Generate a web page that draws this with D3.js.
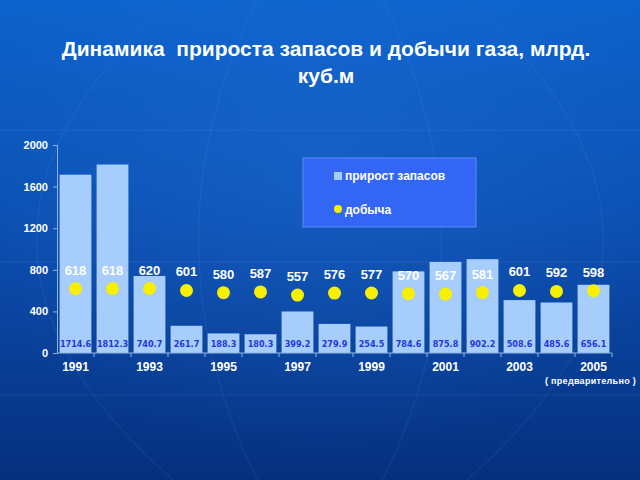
<!DOCTYPE html>
<html>
<head>
<meta charset="utf-8">
<title>Динамика прироста запасов и добычи газа</title>
<script src="https://cdn.jsdelivr.net/npm/d3@7"></script>
<style>
  body { margin: 0; background: #0a4aa8; }
  svg { display: block; }
</style>
</head>
<body>
<script>
// data
var years = [1991, 1992, 1993, 1994, 1995, 1996, 1997, 1998, 1999, 2000, 2001, 2002, 2003, 2004, 2005];
var reserves = [1714.6, 1812.3, 740.7, 261.7, 188.3, 180.3, 399.2, 279.9, 254.5, 784.6, 875.8, 902.2, 508.6, 485.6, 656.1];
var production = [618, 618, 620, 601, 580, 587, 557, 576, 577, 570, 567, 581, 601, 592, 598];
var yTicks = [0, 400, 800, 1200, 1600, 2000];
var xLabels = [1991, 1993, 1995, 1997, 1999, 2001, 2003, 2005];
var legendNames = ["прирост запасов", "добыча"];

var w = 640, h = 480;
var font = "'Liberation Sans', Arial, sans-serif";

var svg = d3.select("body").append("svg")
    .attr("width", w)
    .attr("height", h);

// background
var defs = svg.append("defs");
var bg = defs.append("linearGradient").attr("id", "bg")
    .attr("x1", 0).attr("y1", 0).attr("x2", 0).attr("y2", 1);
bg.append("stop").attr("offset", "0%").attr("stop-color", "#0c62cc");
bg.append("stop").attr("offset", "45%").attr("stop-color", "#0b4fb2");
bg.append("stop").attr("offset", "100%").attr("stop-color", "#06307e");
svg.append("rect").attr("width", w).attr("height", h).attr("fill", "url(#bg)");

var glow = defs.append("radialGradient").attr("id", "glow")
    .attr("cx", "50%").attr("cy", "35%").attr("r", "60%");
glow.append("stop").attr("offset", "0%").attr("stop-color", "#2a7ae0").attr("stop-opacity", 0.3);
glow.append("stop").attr("offset", "100%").attr("stop-color", "#2a7ae0").attr("stop-opacity", 0);
svg.append("rect").attr("width", w).attr("height", h).attr("fill", "url(#glow)");

// faint globe lines
var deco = svg.append("g").attr("fill", "none").attr("stroke", "#6fa6ee").attr("stroke-opacity", 0.14).attr("stroke-width", 1);
[130, 262, 395, 520].forEach(function(yy) {
    deco.append("line").attr("x1", 0).attr("x2", w).attr("y1", yy).attr("y2", yy);
});
[-420, -180, 180, 420].forEach(function(dx) {
    deco.append("path").attr("d", "M" + (320 + dx * 0.35) + ",0 Q" + (320 + dx) + ",240 " + (320 + dx * 0.35) + ",480");
});

// title
var title = svg.append("text")
    .attr("text-anchor", "middle")
    .attr("font-family", font)
    .attr("font-weight", "bold")
    .attr("font-size", "21px")
    .attr("fill", "#ffffff");
title.append("tspan").attr("x", 326).attr("y", 56).attr("xml:space", "preserve").text("Динамика  прироста запасов и добычи газа, млрд.");
title.append("tspan").attr("x", 326).attr("y", 83).text("куб.м");

// scales
var xScale = d3.scaleBand()
    .domain(years)
    .range([57, 612])
    .paddingInner(0.14)
    .paddingOuter(0.07);

var yScale = d3.scaleLinear()
    .domain([0, 2000])
    .range([353, 145]);

// axes
var yAxis = d3.axisLeft(yScale).tickValues(yTicks).tickFormat(d3.format("d")).tickSize(4).tickPadding(5);
var gy = svg.append("g")
    .attr("transform", "translate(57,0)")
    .call(yAxis);
gy.select(".domain").attr("stroke", "#8fb4e6");
gy.selectAll(".tick line").attr("stroke", "#8fb4e6");
gy.selectAll(".tick text")
    .attr("fill", "#ffffff")
    .attr("font-family", font)
    .attr("font-weight", "bold")
    .attr("font-size", "11px");

// bars
svg.selectAll("rect.bar")
    .data(years)
    .enter().append("rect")
    .attr("class", "bar")
    .attr("x", function(d) { return xScale(d); })
    .attr("y", function(d, i) { return yScale(reserves[i]); })
    .attr("width", xScale.bandwidth())
    .attr("height", function(d, i) { return yScale(0) - yScale(reserves[i]); })
    .attr("fill", "#a6cdfb");

// bar values
svg.selectAll("text.barval")
    .data(years)
    .enter().append("text")
    .attr("class", "barval")
    .attr("x", function(d) { return xScale(d) + xScale.bandwidth() / 2; })
    .attr("y", yScale(0) - 6)
    .attr("text-anchor", "middle")
    .attr("font-family", "'DejaVu Sans Condensed', 'DejaVu Sans', sans-serif")
    .attr("font-weight", "bold")
    .attr("font-size", "9px")
    .attr("fill", "#2336d6")
    .text(function(d, i) { return reserves[i].toFixed(1); });

// x axis
var xAxis = d3.axisBottom(xScale).tickValues(xLabels).tickSize(0).tickPadding(9);
var gx = svg.append("g")
    .attr("transform", "translate(0," + yScale(0) + ")")
    .call(xAxis);
gx.select(".domain").remove();
gx.selectAll(".tick text")
    .attr("fill", "#ffffff")
    .attr("font-family", font)
    .attr("font-weight", "bold")
    .attr("font-size", "12px");
svg.append("line")
    .attr("x1", 57).attr("x2", 612)
    .attr("y1", yScale(0)).attr("y2", yScale(0))
    .attr("stroke", "#8fb4e6");
var gap = xScale.step() * xScale.paddingInner() / 2;
svg.selectAll("line.xtick")
    .data(years)
    .enter().append("line")
    .attr("class", "xtick")
    .attr("x1", function(d) { return xScale(d) + xScale.bandwidth() + gap; })
    .attr("x2", function(d) { return xScale(d) + xScale.bandwidth() + gap; })
    .attr("y1", yScale(0)).attr("y2", yScale(0) + 4)
    .attr("stroke", "#8fb4e6");

svg.append("text")
    .attr("x", xScale(2005) + xScale.bandwidth() / 2 - 3)
    .attr("y", 384)
    .attr("text-anchor", "middle")
    .attr("font-family", font)
    .attr("font-weight", "bold")
    .attr("font-size", "9px")
    .attr("letter-spacing", "0.3px")
    .attr("fill", "#ffffff")
    .text("( предварительно )");

// production dots
svg.selectAll("circle.dot")
    .data(years)
    .enter().append("circle")
    .attr("class", "dot")
    .attr("cx", function(d) { return xScale(d) + xScale.bandwidth() / 2; })
    .attr("cy", function(d, i) { return yScale(production[i]); })
    .attr("r", 6.5)
    .attr("fill", "#f7f000");

svg.selectAll("text.dotval")
    .data(years)
    .enter().append("text")
    .attr("class", "dotval")
    .attr("x", function(d) { return xScale(d) + xScale.bandwidth() / 2; })
    .attr("y", function(d, i) { return yScale(production[i]) - 14; })
    .attr("text-anchor", "middle")
    .attr("font-family", font)
    .attr("font-weight", "bold")
    .attr("font-size", "13px")
    .attr("fill", "#ffffff")
    .text(function(d, i) { return production[i]; });

// legend
var lg = svg.append("g").attr("transform", "translate(303,158)");
lg.append("rect")
    .attr("width", 173).attr("height", 69)
    .attr("fill", "#3366f5")
    .attr("stroke", "#5c8af7")
    .attr("stroke-width", 1);
lg.append("rect")
    .attr("x", 31).attr("y", 14).attr("width", 8).attr("height", 8)
    .attr("fill", "#a6cdfb");
lg.append("circle")
    .attr("cx", 35).attr("cy", 51).attr("r", 4)
    .attr("fill", "#f7f000");
lg.selectAll("text.leg")
    .data(legendNames)
    .enter().append("text")
    .attr("class", "leg")
    .attr("x", 42)
    .attr("y", function(d, i) { return 22 + i * 34; })
    .attr("font-family", font)
    .attr("font-weight", "bold")
    .attr("font-size", "12px")
    .attr("fill", "#ffffff")
    .text(function(d) { return d; });
</script>
</body>
</html>
